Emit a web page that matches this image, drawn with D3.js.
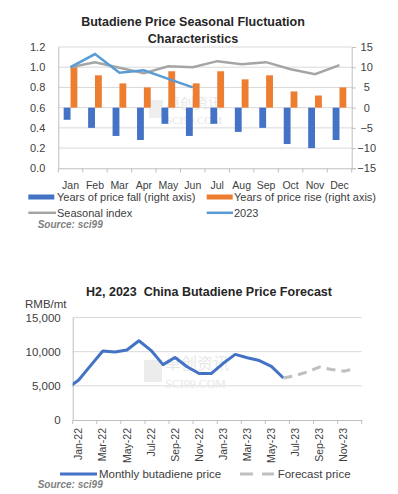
<!DOCTYPE html>
<meta charset="utf-8">
<script src="https://d3js.org/d3.v7.min.js"></script>
<style>
  body { margin: 0; background: #fff; }
  text { font-family: "Liberation Sans", Arial, sans-serif; }
</style>
<div id="chart"></div>
<script>
// ---- data: seasonal chart
var months = ["Jan","Feb","Mar","Apr","May","Jun","Jul","Aug","Sep","Oct","Nov","Dec"];
var fallYears = [-3,-5,-7,-8,-4,-7,-4,-6,-5,-9,-10,-8];
var riseYears = [10,8,6,5,9,6,9,7,8,4,3,5];
var seasonalIndex = [1.00,1.05,0.995,0.94,1.01,1.00,1.06,1.03,1.05,0.98,0.93,1.02];
var price2023 = [1.00,1.13,0.945,0.97,0.885,0.80];
var leftTicks = [0,0.2,0.4,0.6,0.8,1.0,1.2];
var rightTicks = [-15,-10,-5,0,5,10,15];

// ---- data: forecast chart
var priceMonths = ["Jan-22","Feb-22","Mar-22","Apr-22","May-22","Jun-22","Jul-22","Aug-22","Sep-22","Oct-22","Nov-22","Dec-22",
                   "Jan-23","Feb-23","Mar-23","Apr-23","May-23","Jun-23","Jul-23","Aug-23","Sep-23","Oct-23","Nov-23","Dec-23"];
var priceDec21 = 4600; // previous month, line enters from the axis
var monthlyPrice = [5850,8000,10100,9950,10250,11600,10200,8100,9150,7800,6800,6800,8300,9600,9100,8700,7850,6150];
var forecastMonths = ["Jun-23","Jul-23","Aug-23","Sep-23","Oct-23","Nov-23","Dec-23"];
var forecastPrice = [6150,6500,7050,7750,7400,7150,7500];
var priceTicks = [0,5000,10000,15000];

var svg = d3.select("#chart").append("svg")
    .attr("width", 398).attr("height", 494);

var txt = "#404040", grid = "#d9d9d9", axisCol = "#bfbfbf";

// ================= chart 1 =================
var g1 = svg.append("g");
g1.append("text").attr("x", 193).attr("y", 25.5).attr("text-anchor", "middle")
  .style("font-size", "12.5px").style("font-weight", "bold").attr("fill", "#262626")
  .text("Butadiene Price Seasonal Fluctuation");
g1.append("text").attr("x", 193).attr("y", 42.5).attr("text-anchor", "middle")
  .style("font-size", "12.5px").style("font-weight", "bold").attr("fill", "#262626")
  .text("Characteristics");

var x = d3.scaleBand().domain(months).range([58.3, 351.7]);
var xi = d3.scaleBand().domain(["fall","rise"]).range([x.bandwidth()*0.22, x.bandwidth()*0.78]);
var yL = d3.scaleLinear().domain([0, 1.2]).range([168.3, 47]);
var yR = d3.scaleLinear().domain([-15, 15]).range([168.3, 47]);

// grid
g1.selectAll(".grid").data(leftTicks.slice(1)).enter().append("line")
  .attr("x1", 58.3).attr("x2", 351.7)
  .attr("y1", function(d) { return yL(d); }).attr("y2", function(d) { return yL(d); })
  .attr("stroke", grid);

// watermark
g1.append("rect").attr("x", 149).attr("y", 100).attr("width", 14).attr("height", 18).attr("fill", "#eeeeee");
g1.append("text").attr("x", 166).attr("y", 108).
  style("font-family", "Noto Sans CJK SC").style("font-size", "14px").attr("fill", "#e8e8e8")
  .text("卓创资讯");
g1.append("text").attr("x", 166).attr("y", 124).
  style("font-family", "Liberation Serif").style("font-size", "11px").attr("fill", "#e8e8e8")
  .text("SCI99.COM");

// bars
g1.selectAll(".fall").data(fallYears).enter().append("rect")
  .attr("x", function(d, i) { return x(months[i]) + xi("fall"); })
  .attr("y", yR(0))
  .attr("width", xi.bandwidth())
  .attr("height", function(d) { return yR(d) - yR(0); })
  .attr("fill", "#4472c4");
g1.selectAll(".rise").data(riseYears).enter().append("rect")
  .attr("x", function(d, i) { return x(months[i]) + xi("rise"); })
  .attr("y", function(d) { return yR(d); })
  .attr("width", xi.bandwidth())
  .attr("height", function(d) { return yR(0) - yR(d); })
  .attr("fill", "#ed7d31");

// axes
g1.append("g").attr("transform", "translate(0,168.3)")
  .call(d3.axisBottom(x).tickSize(0).tickPadding(13))
  .call(function(a) {
    a.select(".domain").attr("stroke", axisCol);
    a.selectAll("text").attr("fill", txt).style("font-size", "10.5px");
  });
// category boundary ticks
g1.selectAll(".ctick").data(months.concat(["end"])).enter().append("line")
  .attr("x1", function(d, i) { return i < 12 ? x(d) : x.range()[1]; })
  .attr("x2", function(d, i) { return i < 12 ? x(d) : x.range()[1]; })
  .attr("y1", 168.3).attr("y2", 172.5).attr("stroke", axisCol);

g1.append("g").attr("transform", "translate(58.3,0)")
  .call(d3.axisLeft(yL).tickValues(leftTicks).tickFormat(d3.format(".1f")).tickSize(0).tickPadding(13))
  .call(function(a) {
    a.select(".domain").attr("stroke", axisCol);
    a.selectAll("text").attr("fill", txt).style("font-size", "11px");
  });
g1.append("g").attr("transform", "translate(351.7,0)")
  .call(d3.axisRight(yR).tickValues(rightTicks).tickSize(4).tickPadding(10))
  .call(function(a) {
    a.select(".domain").attr("stroke", axisCol);
    a.selectAll("line").attr("stroke", axisCol);
    a.selectAll("text").attr("fill", txt).style("font-size", "11px").attr("text-anchor", "middle").attr("x", 15);
  });

// lines
var line1 = d3.line()
  .x(function(d, i) { return x(months[i]) + x.bandwidth() / 2; })
  .y(function(d) { return yL(d); });
g1.append("path").datum(seasonalIndex).attr("d", line1)
  .attr("fill", "none").attr("stroke", "#a5a5a5").attr("stroke-width", 2.5);
g1.append("path").datum(price2023).attr("d", line1)
  .attr("fill", "none").attr("stroke", "#5b9bd5").attr("stroke-width", 2.5);

// legend
g1.append("rect").attr("x", 28.3).attr("y", 194.5).attr("width", 26).attr("height", 5).attr("fill", "#4472c4");
g1.append("text").attr("x", 57).attr("y", 200.7).style("font-size", "11px").attr("fill", txt)
  .text("Years of price fall (right axis)");
g1.append("rect").attr("x", 206.7).attr("y", 194.5).attr("width", 26).attr("height", 5).attr("fill", "#ed7d31");
g1.append("text").attr("x", 234).attr("y", 200.7).style("font-size", "11px").attr("fill", txt)
  .text("Years of price rise (right axis)");
g1.append("line").attr("x1", 28.3).attr("x2", 56).attr("y1", 212.8).attr("y2", 212.8)
  .attr("stroke", "#a5a5a5").attr("stroke-width", 2.5);
g1.append("text").attr("x", 57).attr("y", 216.6).style("font-size", "11px").attr("fill", txt)
  .text("Seasonal index");
g1.append("line").attr("x1", 206.7).attr("x2", 233).attr("y1", 212.8).attr("y2", 212.8)
  .attr("stroke", "#5b9bd5").attr("stroke-width", 2.5);
g1.append("text").attr("x", 234).attr("y", 216.6).style("font-size", "11px").attr("fill", txt)
  .text("2023");
g1.append("text").attr("x", 37.7).attr("y", 227.8).style("font-size", "10px")
  .style("font-weight", "bold").style("font-style", "italic").attr("fill", "#7f7f7f")
  .text("Source: sci99");

// ================= chart 2 =================
var g2 = svg.append("g");
g2.append("text").attr("x", 209).attr("y", 296).attr("text-anchor", "middle")
  .style("font-size", "12.5px").style("font-weight", "bold").style("white-space", "pre").attr("fill", "#262626")
  .text("H2, 2023  China Butadiene Price Forecast");
g2.append("text").attr("x", 25).attr("y", 307.5).style("font-size", "11.5px").attr("fill", txt)
  .text("RMB/mt");

var x2 = d3.scaleBand().domain(priceMonths).range([72.7, 361.7]);
var y2 = d3.scaleLinear().domain([0, 15000]).range([420, 317.5]);
var step = x2.step();
function cx(m) { return x2(m) + x2.bandwidth() / 2; }

g2.selectAll(".grid").data(priceTicks.slice(1)).enter().append("line")
  .attr("x1", 72.7).attr("x2", 361.7)
  .attr("y1", function(d) { return y2(d); }).attr("y2", function(d) { return y2(d); })
  .attr("stroke", grid);

// watermark
g2.append("rect").attr("x", 144).attr("y", 360).attr("width", 18).attr("height", 22).attr("fill", "#ececec");
g2.append("text").attr("x", 165).attr("y", 369).style("font-family", "Noto Sans CJK SC")
  .style("font-size", "16px").attr("fill", "#e8e8e8").text("卓创资讯");
g2.append("text").attr("x", 165).attr("y", 388).style("font-family", "Liberation Serif")
  .style("font-size", "12px").attr("fill", "#e8e8e8").text("SCI99.COM");

g2.append("g").attr("transform", "translate(72.7,0)")
  .call(d3.axisLeft(y2).tickValues(priceTicks).tickFormat(d3.format(",")).tickSize(0).tickPadding(12))
  .call(function(a) {
    a.select(".domain").attr("stroke", axisCol);
    a.selectAll("text").attr("fill", txt).style("font-size", "11.5px");
  });

g2.append("g").attr("transform", "translate(0,420)")
  .call(d3.axisBottom(x2).tickSize(0).tickPadding(0)
    .tickValues(priceMonths.filter(function(d, i) { return i % 2 === 0; })))
  .call(function(a) {
    a.select(".domain").attr("stroke", axisCol);
    a.selectAll("text").attr("fill", txt).style("font-size", "10.5px")
      .attr("text-anchor", "end").attr("transform", "rotate(-90)")
      .attr("x", -8).attr("y", 0).attr("dy", "0.35em");
  });
g2.selectAll(".ctick").data(priceMonths.filter(function(d, i) { return i % 2 === 0; }).concat(["end"]))
  .enter().append("line")
  .attr("x1", function(d) { return d === "end" ? x2.range()[1] : x2(d); })
  .attr("x2", function(d) { return d === "end" ? x2.range()[1] : x2(d); })
  .attr("y1", 420).attr("y2", 424).attr("stroke", axisCol);

svg.append("clipPath").attr("id", "clip2").append("rect")
  .attr("x", 72.7).attr("y", 300).attr("width", 289).attr("height", 120);

var pricePts = [[cx(priceMonths[0]) - step, priceDec21]].concat(
  monthlyPrice.map(function(v, i) { return [cx(priceMonths[i]), v]; }));
var line2 = d3.line().x(function(d) { return d[0]; }).y(function(d) { return y2(d[1]); });
g2.append("path").datum(pricePts).attr("d", line2).attr("clip-path", "url(#clip2)")
  .attr("fill", "none").attr("stroke", "#4472c4").attr("stroke-width", 3).attr("stroke-linejoin", "round");
g2.append("path").datum(forecastPrice.map(function(v, i) { return [cx(forecastMonths[i]), v]; }))
  .attr("d", line2)
  .attr("fill", "none").attr("stroke", "#bfbfbf").attr("stroke-width", 3).attr("stroke-dasharray", "9,6");

// legend
g2.append("line").attr("x1", 60).attr("x2", 97).attr("y1", 474).attr("y2", 474)
  .attr("stroke", "#4472c4").attr("stroke-width", 3);
g2.append("text").attr("x", 99).attr("y", 478.2).style("font-size", "11.5px").attr("fill", txt)
  .text("Monthly butadiene price");
g2.append("line").attr("x1", 240).attr("x2", 274).attr("y1", 474).attr("y2", 474)
  .attr("stroke", "#bfbfbf").attr("stroke-width", 3).attr("stroke-dasharray", "13,9");
g2.append("text").attr("x", 277.7).attr("y", 478.2).style("font-size", "11.5px").attr("fill", txt)
  .text("Forecast price");
g2.append("text").attr("x", 37.7).attr("y", 487.5).style("font-size", "10px")
  .style("font-weight", "bold").style("font-style", "italic").attr("fill", "#7f7f7f")
  .text("Source: sci99");
</script>
